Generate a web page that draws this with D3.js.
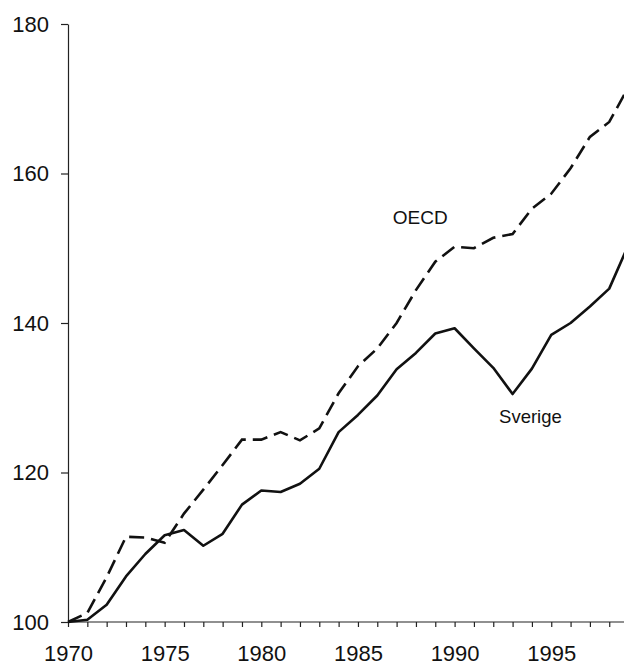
<!DOCTYPE html>
<html>
<head>
<meta charset="utf-8">
<script src="https://d3js.org/d3.v7.min.js"></script>
<style>
  body { margin: 0; background: #fff; }
  svg { display: block; font-family: "Liberation Sans", Arial, sans-serif; }
  .axis path, .axis line { stroke: #222; stroke-width: 1.2; }
  .axis text { fill: #111; font-size: 22px; }
</style>
</head>
<body>
<div id="chart"></div>
<script>
// index, 1970 = 100
var years = d3.range(1970, 2000);
var sverige = [100, 100.3, 102.3, 106.1, 109.1, 111.6, 112.3, 110.2, 111.8, 115.7,
               117.6, 117.4, 118.5, 120.5, 125.4, 127.7, 130.3, 133.8, 136.0, 138.6,
               139.3, 136.6, 134.0, 130.5, 133.9, 138.4, 140.0, 142.2, 144.6, 150.5];
var oecd = [100, 101.2, 106.0, 111.4, 111.3, 110.6, 114.5, 117.7, 121.0, 124.4,
            124.4, 125.4, 124.3, 125.9, 130.6, 134.2, 136.6, 140.0, 144.4, 148.2,
            150.2, 150.0, 151.4, 151.9, 155.3, 157.3, 160.7, 164.9, 166.9, 171.6];
var yTicks = [100, 120, 140, 160, 180];
var xLabels = [1970, 1975, 1980, 1985, 1990, 1995];

var width = 624,
    height = 665;

var svg = d3.select("#chart").append("svg")
    .attr("width", width)
    .attr("height", height);

var x = d3.scaleLinear().domain([1970, 1999]).range([68, 68 + 29 * 19.33]);
var y = d3.scaleLinear().domain([100, 180]).range([622, 24]);

// x axis: a tick every year, labels every 5 years
svg.append("g")
    .attr("class", "axis")
    .attr("transform", "translate(0," + y(100) + ")")
    .call(d3.axisBottom(x)
        .tickValues(years)
        .tickSize(5)
        .tickSizeOuter(0)
        .tickFormat(function(d) { return xLabels.indexOf(d) >= 0 ? d : ""; }))
    .call(function(g) {
        g.select(".domain").attr("d", "M" + x(1970) + ",0H" + width);
        g.selectAll("text").attr("y", 38.5).attr("dy", 0);
    });

svg.append("g")
    .attr("class", "axis")
    .attr("transform", "translate(" + x(1970) + ",0)")
    .call(d3.axisLeft(y)
        .tickValues(yTicks)
        .tickSize(7)
        .tickSizeOuter(0))
    .call(function(g) {
        g.selectAll("text").attr("x", -19);
    });

var line = d3.line()
    .x(function(d, i) { return x(years[i]); })
    .y(function(d) { return y(d); });

svg.append("path")
    .datum(oecd)
    .attr("fill", "none")
    .attr("stroke", "#111")
    .attr("stroke-width", 2.6)
    .attr("stroke-dasharray", "15,7")
    .attr("d", line);

svg.append("path")
    .datum(sverige)
    .attr("fill", "none")
    .attr("stroke", "#111")
    .attr("stroke-width", 2.6)
    .attr("stroke-linejoin", "round")
    .attr("d", line);

svg.append("text")
    .attr("x", x(1986.8))
    .attr("y", y(153.2))
    .attr("font-size", 19)
    .attr("fill", "#111")
    .text("OECD");

svg.append("text")
    .attr("x", x(1992.3))
    .attr("y", y(126.6))
    .attr("font-size", 18.5)
    .attr("fill", "#111")
    .text("Sverige");
</script>
</body>
</html>
